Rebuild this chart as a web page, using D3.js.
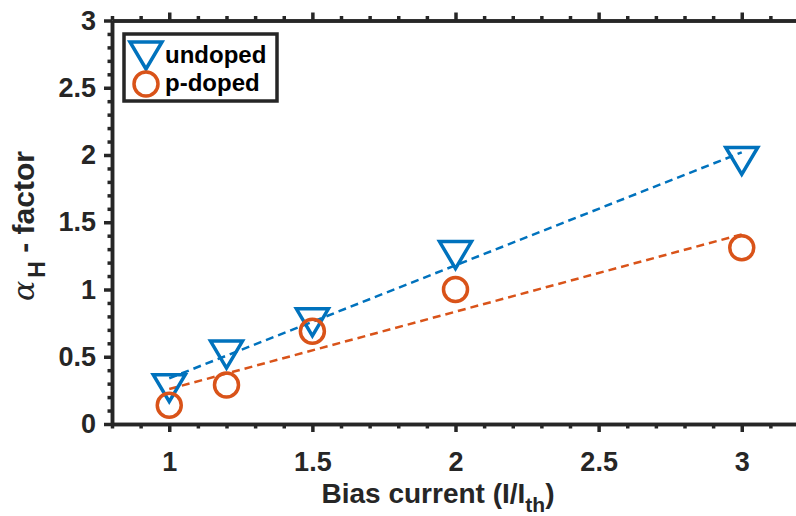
<!DOCTYPE html>
<html><head><meta charset="utf-8">
<script src="https://cdn.jsdelivr.net/npm/d3@7"></script>
<style>body{margin:0;background:#fff}</style>
</head><body>
<svg id="c" width="796" height="516"></svg>
<script>
const biasCurrent = [1, 1.2, 1.5, 2, 3];
const undoped = [0.27, 0.52, 0.76, 1.26, 1.96];
const pdoped = [0.14, 0.29, 0.69, 1.0, 1.31];
const fitX = [1, 3];
const undopedFit = [0.34, 2.02];
const pdopedFit = [0.26, 1.41];
const xTicks = [1, 1.5, 2, 2.5, 3];
const yTicks = [0, 0.5, 1, 1.5, 2, 2.5, 3];
const xDomain = [0.8, 3.2];
const yDomain = [0, 3];
const seriesNames = ["undoped", "p-doped"];

const BLUE = "#0072BD", ORANGE = "#D95319", AX = "#262626";
const FONT = "'Liberation Sans', Arial, Helvetica, sans-serif";
const svg = d3.select("#c");
const x = d3.scaleLinear().domain(xDomain).range([112, 799]);
const y = d3.scaleLinear().domain(yDomain).range([424, 20.5]);
const minorX = d3.range(8, 33).map(v => v / 10).filter(v => !xTicks.some(t => Math.abs(t - v) < 1e-6));
const minorY = d3.range(0, 31).map(v => v / 10).filter(v => !yTicks.some(t => Math.abs(t - v) < 1e-6));

function styleAxis(g) {
  g.selectAll("path.domain").attr("stroke", AX).attr("stroke-width", 3.5);
  g.selectAll(".tick line").attr("stroke", AX).attr("stroke-width", 3.5);
  g.selectAll(".tick text").attr("fill", AX).attr("font-family", FONT).attr("font-weight", "bold").attr("font-size", 27);
}
// minor ticks
svg.append("g").attr("transform", `translate(0,${y(0)})`).call(d3.axisBottom(x).tickValues(minorX).tickSize(4.5).tickSizeOuter(0).tickFormat("")).call(styleAxis);
svg.append("g").attr("transform", `translate(0,${y(3)})`).call(d3.axisTop(x).tickValues(minorX).tickSize(4.5).tickSizeOuter(0).tickFormat("")).call(styleAxis);
svg.append("g").attr("transform", `translate(${x(0.8)},0)`).call(d3.axisLeft(y).tickValues(minorY).tickSize(4.5).tickSizeOuter(0).tickFormat("")).call(styleAxis);
svg.append("g").attr("transform", `translate(${x(3.2)},0)`).call(d3.axisRight(y).tickValues(minorY).tickSize(4.5).tickSizeOuter(0).tickFormat("")).call(styleAxis);
// major ticks
svg.append("g").attr("transform", `translate(0,${y(0)})`).call(d3.axisBottom(x).tickValues(xTicks).tickSize(8).tickPadding(20).tickSizeOuter(0).tickFormat(d3.format("~g"))).call(styleAxis);
svg.append("g").attr("transform", `translate(0,${y(3)})`).call(d3.axisTop(x).tickValues(xTicks).tickSize(8).tickSizeOuter(0).tickFormat("")).call(styleAxis);
svg.append("g").attr("transform", `translate(${x(0.8)},0)`).call(d3.axisLeft(y).tickValues(yTicks).tickSize(8).tickPadding(8).tickSizeOuter(0).tickFormat(d3.format("~g"))).call(styleAxis);
svg.append("g").attr("transform", `translate(${x(3.2)},0)`).call(d3.axisRight(y).tickValues(yTicks).tickSize(8).tickSizeOuter(0).tickFormat("")).call(styleAxis);

// fit lines
const line = d3.line().x(d => x(d[0])).y(d => y(d[1]));
svg.append("path").datum(fitX.map((v, i) => [v, undopedFit[i]])).attr("d", line)
  .attr("fill", "none").attr("stroke", BLUE).attr("stroke-width", 2.5).attr("stroke-dasharray", "8,5");
svg.append("path").datum(fitX.map((v, i) => [v, pdopedFit[i]])).attr("d", line)
  .attr("fill", "none").attr("stroke", ORANGE).attr("stroke-width", 2.5).attr("stroke-dasharray", "8,5");

// markers
const tri = "M-16,-13 L16,-13 L0,14 Z";
function triMarker(g, cx, cy) {
  g.append("path").attr("d", tri).attr("transform", `translate(${cx},${cy})`)
    .attr("fill", "none").attr("stroke", BLUE).attr("stroke-width", 3.5).attr("stroke-linejoin", "miter");
}
function circMarker(g, cx, cy) {
  g.append("circle").attr("cx", cx).attr("cy", cy).attr("r", 12)
    .attr("fill", "none").attr("stroke", ORANGE).attr("stroke-width", 3.5);
}
const mg = svg.append("g");
biasCurrent.forEach((v, i) => triMarker(mg, x(v), y(undoped[i])));
biasCurrent.forEach((v, i) => circMarker(mg, x(v), y(pdoped[i])));

// legend
const lg = svg.append("g");
lg.append("rect").attr("x", 124).attr("y", 34).attr("width", 153).attr("height", 67)
  .attr("fill", "#fff").attr("stroke", AX).attr("stroke-width", 3.5);
triMarker(lg, 146, 55);
circMarker(lg, 146, 84);
lg.append("text").attr("x", 165).attr("y", 63).text(seriesNames[0])
  .attr("font-family", FONT).attr("font-weight", "bold").attr("font-size", 24).attr("fill", "#000");
lg.append("text").attr("x", 165).attr("y", 91).text(seriesNames[1])
  .attr("font-family", FONT).attr("font-weight", "bold").attr("font-size", 24).attr("fill", "#000");

// axis labels
const xl = svg.append("text").attr("x", 438).attr("y", 503).attr("text-anchor", "middle")
  .attr("font-family", FONT).attr("font-weight", "bold").attr("font-size", 28).attr("fill", AX);
xl.append("tspan").text("Bias current (I/I");
xl.append("tspan").text("th").attr("font-size", 21).attr("dy", 9);
xl.append("tspan").text(")").attr("dy", -9);

const yl = svg.append("text").attr("transform", "translate(34,226) rotate(-90)").attr("text-anchor", "middle")
  .attr("font-family", FONT).attr("font-weight", "bold").attr("font-size", 30).attr("fill", AX);
yl.append("tspan").text("α").attr("font-weight", "normal").attr("font-style", "italic").attr("font-family", "'DejaVu Serif', serif");
yl.append("tspan").text("H").attr("font-size", 23).attr("dy", 11).attr("dx", 3);
yl.append("tspan").text(" - factor").attr("dy", -11);
</script>
</body></html>
